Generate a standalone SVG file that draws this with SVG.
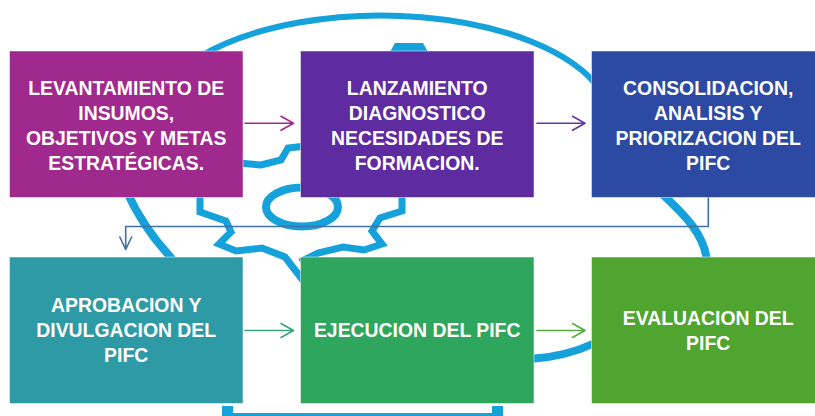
<svg xmlns="http://www.w3.org/2000/svg" width="815" height="416" viewBox="0 0 815 416">
<style>
.bg{fill:none;stroke:#15A1D9;stroke-linejoin:miter;stroke-linecap:butt}
.box{stroke:#ffffff;stroke-opacity:0.5;stroke-width:1}
.t{font-family:"Liberation Sans",Arial,sans-serif;font-weight:bold;font-size:19.4px;fill:#ffffff;text-anchor:middle}
.c{fill:none;stroke-width:1.6;stroke-linecap:round;stroke-linejoin:round}
</style>
<rect width="815" height="416" fill="#ffffff"/>
<g id="background-gear">
<path class="bg" stroke-width="6" d="M 200,56.5 A 230 107 0 0 1 600,89.8"/>
<path class="bg" stroke-width="8" d="M 660,192 C 685,215 705,235 707,262"/>
<path class="bg" stroke-width="8" d="M 127,192 C 136,212 150,236 175,262"/>
<path class="bg" stroke-width="8" d="M 530,359 Q 565,357 595,343"/>
<polygon fill="#15A1D9" points="390,52 395,43 423,43 428,52"/>
<path class="bg" stroke-width="7" d="M 238,163 L 261,165 L 281,160 L 288,148 L 306,146"/>
<path class="bg" stroke-width="7" d="M 200,190 L 200,212 L 226,221 L 231,232 L 219,244 L 236,251 L 262,248 L 285,257 L 305,283"/>
<path class="bg" stroke-width="7" d="M 402,190 L 402,211 L 380,218 L 372,231 L 382,244 L 364,250 L 343,247 L 318,253 L 300,262"/>
<ellipse class="bg" stroke-width="8" cx="302" cy="207" rx="36" ry="19.5"/>
<path fill="#15A1D9" d="M 222,416 L 222,406 L 233,406 L 233,413 L 492,413 L 492,406 L 503,406 L 503,416 Z"/>
</g>
<g id="node-levantamiento">
<rect class="box" x="9.5" y="51" width="233.5" height="146.5" fill="#A0298E"/>
<text class="t" x="126.2" y="94.5">LEVANTAMIENTO DE</text>
<text class="t" x="126.2" y="119.5">INSUMOS,</text>
<text class="t" x="126.2" y="144.5">OBJETIVOS Y METAS</text>
<text class="t" x="126.2" y="169.5">ESTRATÉGICAS.</text>
</g>
<g id="node-lanzamiento">
<rect class="box" x="300.5" y="51" width="233.5" height="146.5" fill="#5F2BA0"/>
<text class="t" x="417.2" y="94.5">LANZAMIENTO</text>
<text class="t" x="417.2" y="119.5">DIAGNOSTICO</text>
<text class="t" x="417.2" y="144.5">NECESIDADES DE</text>
<text class="t" x="417.2" y="169.5">FORMACION.</text>
</g>
<g id="node-consolidacion">
<rect class="box" x="591.5" y="51" width="233.5" height="146.5" fill="#2C4AA3"/>
<text class="t" x="708.2" y="94.5">CONSOLIDACION,</text>
<text class="t" x="708.2" y="119.5">ANALISIS Y</text>
<text class="t" x="708.2" y="144.5">PRIORIZACION DEL</text>
<text class="t" x="708.2" y="169.5">PIFC</text>
</g>
<g id="node-aprobacion">
<rect class="box" x="9.5" y="257" width="233.5" height="146.5" fill="#2E9AA6"/>
<text class="t" x="126.2" y="311.7">APROBACION Y</text>
<text class="t" x="126.2" y="336.7">DIVULGACION DEL</text>
<text class="t" x="126.2" y="361.7">PIFC</text>
</g>
<g id="node-ejecucion">
<rect class="box" x="300.5" y="257" width="233.5" height="146.5" fill="#2EA65E"/>
<text class="t" x="417.2" y="336.5">EJECUCION DEL PIFC</text>
</g>
<g id="node-evaluacion">
<rect class="box" x="591.5" y="257" width="233.5" height="146.5" fill="#4FA52F"/>
<text class="t" x="708.2" y="325">EVALUACION DEL</text>
<text class="t" x="708.2" y="350">PIFC</text>
</g>
<g id="connectors">
<path class="c" stroke="#A0298E" d="M 245,123.3 L 293.5,123.3 M 281,116.3 L 293.5,123.3 L 281,130.3"/>
<path class="c" stroke="#6236A6" d="M 537,123.3 L 585,123.3 M 572.5,116.3 L 585,123.3 L 572.5,130.3"/>
<path class="c" stroke="#35A67A" d="M 245,330.5 L 293.5,330.5 M 281,323.5 L 293.5,330.5 L 281,337.5"/>
<path class="c" stroke="#56AC3A" d="M 537,330.5 L 585,330.5 M 572.5,323.5 L 585,330.5 L 572.5,337.5"/>
<path class="c" stroke="#3F71AA" stroke-width="2" d="M 708.3,198 L 708.3,226.5 L 125.7,226.5 L 125.7,249.5 M 119.8,237 L 125.7,249.5 L 131.6,237"/>
</g>
</svg>
